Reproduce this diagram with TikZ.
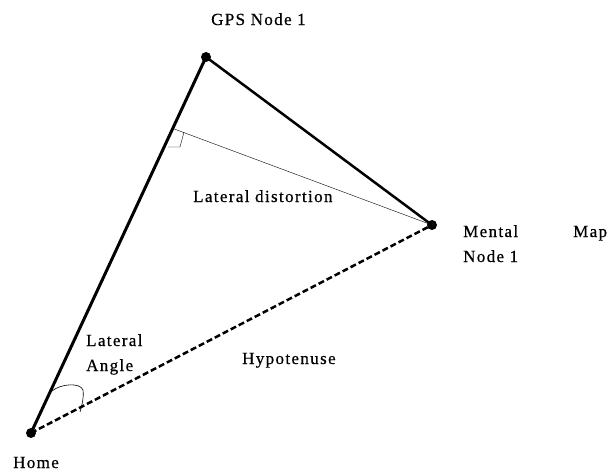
\documentclass[tikz,border=0pt]{standalone}
\usepackage{fontspec}
\setmainfont[LetterSpace=8,FakeBold=0.6]{Liberation Serif}
\usetikzlibrary{calc}

\begin{document}
\begin{tikzpicture}[x=1pt,y=-1pt,
		dot/.style={circle,fill=black,inner sep=0pt,minimum size=10pt},
		lbl/.style={anchor=base west,inner sep=0pt,font=\fontsize{17}{19}\selectfont}]
		\useasboundingbox (0,0) rectangle (612,474);
				\node[dot] (home) at (31,433) {};
				\node[dot] (gps) at (206,57) {};
				\node[dot] (mental) at (432,225) {};
				\coordinate (foot) at ($(home.center)!0.81!(gps.center)$);
				\draw[line width=3pt] (home.center) -- (gps.center);
				\draw[line width=2.5pt] (gps.center) -- (mental.center);
				\draw[thin] (foot) -- (mental.center);
				\draw[line width=2.5pt, dash pattern=on 6pt off 3pt] (home.center) -- (mental.center);
				% right angle and angle mark
				\draw[thin] (184,132) -- (180,147) -- (168,147);
				\draw[semithick] (52,391) .. controls (60,384) and (80,382) .. (83,390) .. controls (84,398) and (82,405) .. (80,412);
				% labels
				\node[lbl] (gpslbl) at (211,25) {GPS Node 1};
				\node[lbl] (distlbl) at (193,202) {Lateral distortion};
				\node[lbl] (mentallbl) at (463,237) {Mental};
				\node[lbl] (maplbl) at (573,237) {Map};
				\node[lbl] (nodelbl) at (463,262) {Node 1};
				\node[lbl] (latlbl) at (86,346) {Lateral};
				\node[lbl] (anglelbl) at (86,371) {Angle};
				\node[lbl] (hyplbl) at (242,364) {Hypotenuse};
				\node[lbl] (homelbl) at (13,468) {Home};
		\end{tikzpicture}
\end{document}
